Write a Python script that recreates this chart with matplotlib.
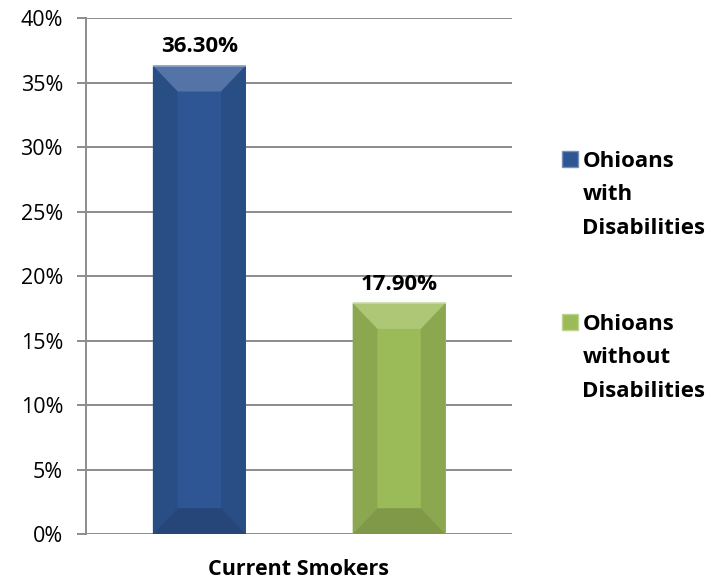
import numpy as np
import matplotlib
matplotlib.use('Agg')
import matplotlib.pyplot as plt
from matplotlib.patches import Polygon, Rectangle
from matplotlib.ticker import PercentFormatter
from matplotlib import colors as mcolors

# data
groups = ['Ohioans\nwith\nDisabilities', 'Ohioans\nwithout\nDisabilities']
values = [36.3, 17.9]
value_labels = ['36.30%', '17.90%']
category = 'Current Smokers'
bar_colors = ['#2E5594', '#9BBB59']

plt.rcParams['font.family'] = ['Open Sans', 'DejaVu Sans']

fig = plt.figure(figsize=(7.2, 5.79), dpi=100)
ax = fig.add_axes([0.1194, 0.0777, 0.5917, 0.8912])

xpos = [0.266, 0.735]
bars = ax.bar(xpos, values, width=0.218, color=bar_colors, zorder=3)


def shade(c, f):
    rgb = np.array(mcolors.to_rgb(c))
    if f > 0:
        rgb = rgb + (1 - rgb) * f
    else:
        rgb = rgb * (1 + f)
    return tuple(np.clip(rgb, 0, 1))


# bevel effect on each bar
bx, by = 0.058, 2.0
for b, c in zip(bars, bar_colors):
    x0, w, h = b.get_x(), b.get_width(), b.get_height()
    x1 = x0 + w
    ix0, ix1, iy0, iy1 = x0 + bx, x1 - bx, by, h - by
    faces = [
        ([(x0, h), (x1, h), (ix1, iy1), (ix0, iy1)], shade(c, 0.18)),
        ([(x0, 0), (x0, h), (ix0, iy1), (ix0, iy0)], shade(c, -0.1)),
        ([(x1, 0), (x1, h), (ix1, iy1), (ix1, iy0)], shade(c, -0.1)),
        ([(x0, 0), (x1, 0), (ix1, iy0), (ix0, iy0)], shade(c, -0.18)),
    ]
    for pts, fc in faces:
        ax.add_patch(Polygon(pts, closed=True, facecolor=fc, edgecolor='none', zorder=4))
    ax.add_patch(Polygon([(x0, h), (x1, h)], closed=False, edgecolor=shade(c, 0.45),
                         lw=1.2, zorder=5))

for b, lab in zip(bars, value_labels):
    ax.annotate(lab, (b.get_x() + b.get_width() / 2, b.get_height()),
                xytext=(0, 6), textcoords='offset points', ha='center', va='bottom',
                fontsize=16, fontweight='bold', zorder=6)

ax.set_xlim(0, 1)
ax.set_ylim(0, 40)
ax.set_yticks(np.arange(0, 41, 5))
ax.yaxis.set_major_formatter(PercentFormatter(decimals=0))
ax.set_xticks([])
ax.set_xlabel(category, fontsize=15.5, fontweight='bold', labelpad=18)
ax.grid(axis='y', color='#8C8C8C', lw=1.4, zorder=0)
for s in ['top', 'right', 'bottom']:
    ax.spines[s].set_visible(False)
ax.spines['left'].set_color('#8C8C8C')
ax.spines['left'].set_linewidth(1.4)
ax.tick_params(axis='y', length=6.5, width=1.4, color='#8C8C8C', labelsize=15.5, pad=10)

# legend drawn by hand: marker aligned with the first line of each label
leg_y = [0.725, 0.443]
for lab, c, y in zip(groups, bar_colors, leg_y):
    fig.patches.append(Rectangle((0.781, y - 0.013), 0.022, 0.028, transform=fig.transFigure,
                                 facecolor=c, edgecolor=shade(c, 0.35), lw=1))
    fig.text(0.809, y + 0.015, lab, fontsize=16, fontweight='bold', va='top', ha='left',
             linespacing=1.78)

fig.savefig('out.png', dpi=100)
